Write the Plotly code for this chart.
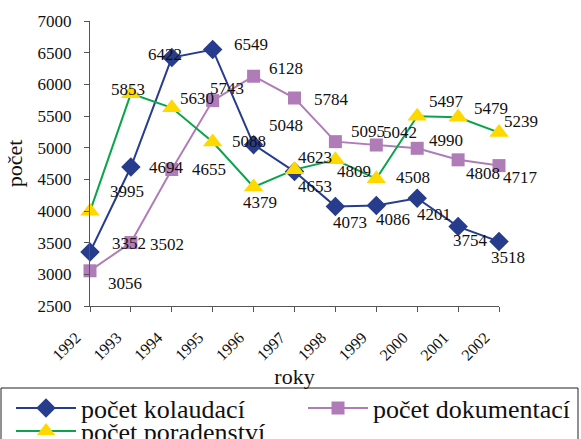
import plotly.graph_objects as go

years = [1992, 1993, 1994, 1995, 1996, 1997, 1998, 1999, 2000, 2001, 2002]
kolaudaci = [3352, 4694, 6422, 6549, 5048, 4623, 4073, 4086, 4201, 3754, 3518]
dokumentaci = [3056, 3502, 4655, 5743, 6128, 5784, 5095, 5042, 4990, 4808, 4717]
poradenstvi = [3995, 5853, 5630, 5088, 4379, 4653, 4809, 4508, 5497, 5479, 5239]
y_ticks = [2500, 3000, 3500, 4000, 4500, 5000, 5500, 6000, 6500, 7000]

names = ["počet kolaudací", "počet dokumentací", "počet poradenství"]

# label offsets (pixels) for the data labels, per series
off_k = [(39, 9), (36, 0), (-7, 3), (38, 5), (32, 19), (20, 14), (15, -16), (17, -14), (17, -16), (12, -14), (9, -16)]
off_d = [(35, -13), (36, -2), (37, 0), (14, 12), (32, 8), (37, -1), (33, 10), (24, 13), (29, 8), (25, -14), (21, -12)]
off_p = [(37, 20), (-3, 4), (25, 9), (36, 1), (6, -15), (20, -17), (19, -12), (37, 1), (29, 15), (33, 9), (22, 11)]

FONT = "Liberation Serif"
BLUE = "#283C8E"
PINK = "#B07CB8"
GREEN = "#0AA54B"
YELLOW = "#FFD800"

fig = go.Figure()
fig.add_trace(go.Scatter(x=years, y=kolaudaci, name=names[0], mode="lines+markers",
                         line=dict(color=BLUE, width=2),
                         marker=dict(symbol="diamond", size=15, color=BLUE),
                         cliponaxis=False, legend="legend"))
fig.add_trace(go.Scatter(x=years, y=dokumentaci, name=names[1], mode="lines+markers",
                         line=dict(color=PINK, width=2),
                         marker=dict(symbol="square", size=13, color=PINK),
                         cliponaxis=False, legend="legend2"))
fig.add_trace(go.Scatter(x=years, y=poradenstvi, name=names[2], mode="lines+markers",
                         line=dict(color=GREEN, width=2),
                         marker=dict(symbol="triangle-up", size=17, color=YELLOW),
                         cliponaxis=False, legend="legend3"))

annotations = []
for series, offs in ((kolaudaci, off_k), (dokumentaci, off_d), (poradenstvi, off_p)):
    for x, v, (dx, dy) in zip(years, series, offs):
        annotations.append(dict(x=x, y=v, text=str(v), showarrow=False,
                                xshift=dx, yshift=dy,
                                font=dict(family=FONT, size=17, color="#111111")))

L, R, T, B = 90, 82, 21, 133
W, H = 581, 439
pw, ph = W - L - R, H - T - B


def px(x):
    return (x - L) / pw


def py(y):
    return (H - B - y) / ph


legend_common = dict(font=dict(family=FONT, size=26, color="#111111"),
                     bgcolor="rgba(0,0,0,0)", borderwidth=0, itemwidth=60,
                     xanchor="left", yanchor="middle", tracegroupgap=0)

fig.update_layout(
    width=W, height=H,
    margin=dict(l=L, r=R, t=T, b=B, autoexpand=False),
    paper_bgcolor="white", plot_bgcolor="white",
    font=dict(family=FONT, size=16, color="#111111"),
    showlegend=True,
    legend=dict(x=px(11), y=py(408), **legend_common),
    legend2=dict(x=px(303), y=py(408), **legend_common),
    legend3=dict(x=px(11), y=py(431), **legend_common),
    xaxis=dict(range=[1992, 2002], tickvals=years, ticktext=[str(y) for y in years],
               tickangle=-45, ticks="outside", ticklen=5, tickcolor="#555555",
               showline=True, linecolor="#555555", linewidth=1, showgrid=False,
               zeroline=False, automargin=False, ticklabelstandoff=10, ticklabelshift=-14,
               tickfont=dict(family=FONT, size=16, color="#111111"),
               title=dict(text="roky", font=dict(family=FONT, size=22, color="#111111"), standoff=0)),
    yaxis=dict(range=[2500, 7000], tickvals=y_ticks, ticks="outside", ticklen=5,
               tickcolor="#555555", showline=True, linecolor="#555555", linewidth=1,
               showgrid=False, zeroline=False, automargin=False, ticklabelstandoff=9,
               tickfont=dict(family=FONT, size=17, color="#111111"),
               title=dict(text="počet", font=dict(family=FONT, size=22, color="#111111"), standoff=8)),
    annotations=annotations,
    shapes=[dict(type="rect", xref="paper", yref="paper",
                 x0=px(1), x1=px(578), y0=py(460), y1=py(388),
                 line=dict(color="#222222", width=1), fillcolor="rgba(0,0,0,0)")],
)

fig.write_html("out.html", config={"displayModeBar": False},
               post_script="document.body.style.margin='0';")
